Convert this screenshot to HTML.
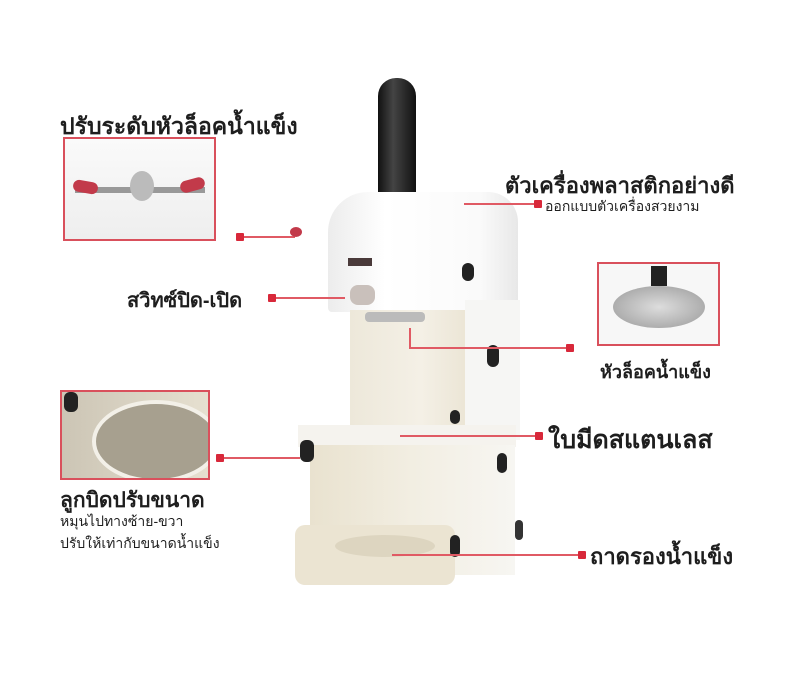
<!DOCTYPE html>
<html><head><meta charset="utf-8"><style>
body{margin:0;width:798px;height:675px;background:#fff;position:relative;overflow:hidden;font-family:"Liberation Sans","DejaVu Sans",sans-serif;color:#222}
.a{position:absolute}
.t{position:absolute;font-weight:bold;white-space:nowrap;color:#1e1e1e}
.l{position:absolute;background:#e05a64}
.d{position:absolute;width:8px;height:8px;background:#d8283a;border-radius:1px}
.box{position:absolute;border:2px solid #d9505c;box-sizing:border-box;overflow:hidden}
</style></head><body>
<!-- machine -->
<div class="a" style="left:378px;top:78px;width:38px;height:122px;background:linear-gradient(90deg,#111,#444 40%,#111);border-radius:18px 18px 4px 4px"></div>
<div class="a" style="left:328px;top:192px;width:190px;height:120px;background:linear-gradient(90deg,#ececec,#fff 30%,#fafafa 80%,#e8e8e8);border-radius:40px 30px 4px 4px"></div>
<div class="a" style="left:350px;top:310px;width:118px;height:125px;background:linear-gradient(90deg,#ede8da,#f4f0e6 60%,#ebe5d5)"></div>
<div class="a" style="left:465px;top:300px;width:55px;height:140px;background:#f6f6f4"></div>
<div class="a" style="left:365px;top:312px;width:60px;height:10px;background:#bbb;border-radius:4px"></div>
<div class="a" style="left:350px;top:285px;width:25px;height:20px;background:#c9c0bb;border-radius:8px"></div>
<div class="a" style="left:348px;top:258px;width:24px;height:8px;background:#4a3a3a"></div>
<div class="a" style="left:298px;top:425px;width:218px;height:22px;background:#f5f3ee"></div>
<div class="a" style="left:310px;top:445px;width:205px;height:130px;background:linear-gradient(90deg,#e9e2cf,#f2eee2 50%,#f7f6f2)"></div>
<div class="a" style="left:295px;top:525px;width:160px;height:60px;background:#ebe4d2;border-radius:10px"></div>
<div class="a" style="left:335px;top:535px;width:100px;height:22px;background:#ddd5c0;border-radius:50%"></div>
<div class="a" style="left:300px;top:440px;width:14px;height:22px;background:#222;border-radius:6px"></div>
<div class="a" style="left:487px;top:345px;width:12px;height:22px;background:#222;border-radius:6px"></div>
<div class="a" style="left:462px;top:263px;width:12px;height:18px;background:#222;border-radius:6px"></div>
<div class="a" style="left:497px;top:453px;width:10px;height:20px;background:#222;border-radius:5px"></div>
<div class="a" style="left:450px;top:535px;width:10px;height:22px;background:#222;border-radius:5px"></div>
<div class="a" style="left:515px;top:520px;width:8px;height:20px;background:#333;border-radius:4px"></div>
<div class="a" style="left:450px;top:410px;width:10px;height:14px;background:#222;border-radius:5px"></div>
<!-- insets -->
<div class="box" style="left:63px;top:137px;width:153px;height:104px;background:linear-gradient(#fafafa,#eee)">
<div class="a" style="left:10px;top:48px;width:130px;height:6px;background:#999"></div>
<div class="a" style="left:8px;top:42px;width:25px;height:12px;background:#c23a4a;border-radius:6px;transform:rotate(10deg)"></div>
<div class="a" style="left:115px;top:40px;width:25px;height:12px;background:#c23a4a;border-radius:6px;transform:rotate(-15deg)"></div>
<div class="a" style="left:65px;top:32px;width:24px;height:30px;background:#bbb;border-radius:50%"></div>
</div>
<div class="box" style="left:597px;top:262px;width:123px;height:84px;background:#f7f7f7">
<div class="a" style="left:52px;top:2px;width:16px;height:20px;background:#222"></div>
<div class="a" style="left:14px;top:22px;width:92px;height:42px;background:radial-gradient(#ddd,#999);border-radius:50%"></div>
</div>
<div class="box" style="left:60px;top:390px;width:150px;height:90px;background:linear-gradient(90deg,#ccc5b5,#e6e0d0)">
<div class="a" style="left:30px;top:8px;width:120px;height:75px;border:4px solid #f3f0e8;border-radius:50%;background:#a7a08f"></div>
<div class="a" style="left:2px;top:0px;width:14px;height:20px;background:#222;border-radius:6px"></div>
</div>
<!-- lines -->
<div class="l" style="left:240px;top:236px;width:55px;height:2px"></div><div class="d" style="left:236px;top:233px"></div>
<div class="a" style="left:290px;top:227px;width:12px;height:10px;background:#c23a4a;border-radius:50%"></div>
<div class="l" style="left:464px;top:203px;width:72px;height:2px"></div><div class="d" style="left:534px;top:200px"></div>
<div class="l" style="left:270px;top:297px;width:75px;height:2px"></div><div class="d" style="left:268px;top:294px"></div>
<div class="l" style="left:409px;top:328px;width:2px;height:21px"></div>
<div class="l" style="left:409px;top:347px;width:160px;height:2px"></div><div class="d" style="left:566px;top:344px"></div>
<div class="l" style="left:400px;top:435px;width:137px;height:2px"></div><div class="d" style="left:535px;top:432px"></div>
<div class="l" style="left:218px;top:457px;width:82px;height:2px"></div><div class="d" style="left:216px;top:454px"></div>
<div class="l" style="left:392px;top:554px;width:188px;height:2px"></div><div class="d" style="left:578px;top:551px"></div>
<!-- labels -->
<div class="t" style="left:60px;top:109px;font-size:23px">ปรับระดับหัวล็อคน้ำแข็ง</div>
<div class="t" style="left:505px;top:168px;font-size:22px">ตัวเครื่องพลาสติกอย่างดี</div>
<div class="t" style="left:545px;top:196px;font-size:14px;font-weight:normal">ออกแบบตัวเครื่องสวยงาม</div>
<div class="t" style="left:127px;top:284px;font-size:20px">สวิทซ์ปิด-เปิด</div>
<div class="t" style="left:600px;top:357px;font-size:18px">หัวล็อคน้ำแข็ง</div>
<div class="t" style="left:548px;top:420px;font-size:25px">ใบมีดสแตนเลส</div>
<div class="t" style="left:60px;top:484px;font-size:21px">ลูกบิดปรับขนาด</div>
<div class="t" style="left:60px;top:511px;font-size:14px;font-weight:normal">หมุนไปทางซ้าย-ขวา</div>
<div class="t" style="left:60px;top:533px;font-size:14px;font-weight:normal">ปรับให้เท่ากับขนาดน้ำแข็ง</div>
<div class="t" style="left:590px;top:539px;font-size:22px">ถาดรองน้ำแข็ง</div>
</body></html>
